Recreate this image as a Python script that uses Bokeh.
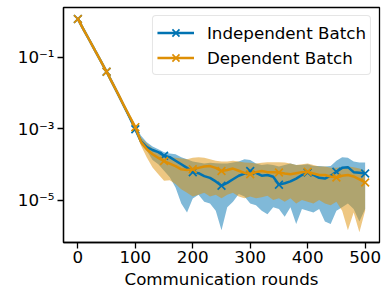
from bokeh.plotting import figure
from bokeh.models import (Range1d, FixedTicker, CustomJSTickFormatter, Legend,
                          LegendItem)
from bokeh.embed import file_html
from bokeh.resources import INLINE

# ---- data (values read as log10 from the reference) ----
rounds = list(range(0, 501, 10))
marker_rounds = list(range(0, 501, 50))

ind_mean_log = [0.07, -0.23, -0.52, -0.82, -1.11, -1.41, -1.72, -2.04, -2.36, -2.68, -3.02,
                -3.36, -3.52, -3.60, -3.66, -3.76, -3.80, -3.90, -4.00, -4.10, -4.22,
                -4.25, -4.33, -4.38, -4.48, -4.60, -4.52, -4.42, -4.32, -4.26, -4.19,
                -4.24, -4.32, -4.30, -4.35, -4.57, -4.53, -4.48, -4.40, -4.30, -4.23,
                -4.30, -4.38, -4.40, -4.32, -4.21, -4.10, -4.08, -4.22, -4.24, -4.26]
ind_upper_log = [0.09, -0.21, -0.50, -0.80, -1.09, -1.38, -1.69, -2.01, -2.32, -2.62, -2.92,
                 -3.20, -3.38, -3.50, -3.58, -3.66, -3.70, -3.72, -3.80, -3.86, -3.92,
                 -3.95, -3.98, -3.96, -3.97, -3.98, -3.98, -3.95, -3.92, -3.86, -3.88,
                 -3.98, -4.02, -4.00, -4.02, -4.06, -4.02, -3.98, -4.02, -4.02, -4.00,
                 -4.05, -4.05, -4.06, -4.05, -3.90, -3.80, -3.82, -3.92, -3.95, -3.95]
ind_lower_log = [0.05, -0.25, -0.54, -0.84, -1.13, -1.44, -1.75, -2.07, -2.40, -2.74, -3.10,
                 -3.45, -3.62, -3.88, -4.00, -4.18, -4.36, -4.65, -5.10, -5.35, -4.96,
                 -4.85, -5.05, -5.10, -5.30, -5.85, -5.20, -5.05, -4.83, -4.90, -5.10,
                 -5.15, -5.30, -5.40, -5.20, -5.25, -5.47, -5.20, -5.67, -5.25, -5.30,
                 -5.35, -5.25, -5.60, -5.67, -5.30, -5.20, -5.10, -5.25, -5.60, -5.25]

dep_mean_log = [0.07, -0.23, -0.52, -0.82, -1.11, -1.41, -1.72, -2.03, -2.35, -2.66, -2.96,
                -3.38, -3.58, -3.72, -3.82, -3.91, -3.98, -4.05, -4.14, -4.16, -4.14,
                -4.10, -4.06, -4.05, -4.10, -4.19, -4.16, -4.12, -4.18, -4.24, -4.28,
                -4.22, -4.19, -4.22, -4.22, -4.23, -4.26, -4.28, -4.25, -4.22, -4.21,
                -4.26, -4.30, -4.30, -4.34, -4.37, -4.32, -4.30, -4.34, -4.42, -4.51]
dep_upper_log = [0.09, -0.21, -0.50, -0.80, -1.09, -1.39, -1.69, -2.00, -2.31, -2.61, -2.90,
                 -3.26, -3.42, -3.56, -3.66, -3.76, -3.80, -3.82, -3.84, -3.86, -3.82,
                 -3.80, -3.82, -3.86, -3.90, -3.92, -3.92, -3.90, -3.92, -3.95, -3.96,
                 -3.98, -3.96, -3.94, -3.94, -3.94, -3.95, -3.98, -4.02, -4.00, -3.98,
                 -4.02, -4.06, -4.06, -4.10, -4.10, -4.08, -4.06, -4.08, -4.12, -4.18]
dep_lower_log = [0.05, -0.25, -0.54, -0.84, -1.13, -1.43, -1.75, -2.06, -2.39, -2.71, -3.02,
                 -3.48, -3.81, -4.09, -4.28, -4.46, -4.45, -4.55, -4.70, -4.80, -4.90,
                 -4.85, -4.80, -4.90, -4.85, -4.95, -4.85, -4.80, -4.90, -4.95, -4.90,
                 -4.95, -4.92, -4.88, -5.00, -4.95, -5.05, -4.95, -5.10, -5.00, -5.05,
                 -5.10, -5.00, -5.10, -5.15, -5.05, -5.30, -5.85, -5.35, -5.90, -5.30]

labels = ["Independent Batch", "Dependent Batch"]
x_ticks = [0, 100, 200, 300, 400, 500]
y_ticks = [1e-1, 1e-3, 1e-5]
y_tick_labels = ["10\u207b\u00b9", "10\u207b\u00b3", "10\u207b\u2075"]

BLUE = "#0173B2"
ORANGE = "#DE8F05"
FONT = "DejaVu Sans"
FS = "16.7px"


def to_lin(vals):
    return [10 ** v for v in vals]


p = figure(width=383, height=291, output_backend="svg", toolbar_location=None,
           y_axis_type="log",
           x_range=Range1d(-25, 525), y_range=Range1d(10 ** -6.19, 10 ** 0.39),
           min_border_left=63, min_border_right=4, min_border_top=7,
           min_border_bottom=47)
p.xgrid.visible = False
p.ygrid.visible = False
p.outline_line_color = "black"
p.outline_line_width = 1.3
p.outline_line_alpha = 1.0
p.background_fill_color = "white"
p.border_fill_color = "white"

series = [
    (ind_mean_log, ind_lower_log, ind_upper_log, BLUE),
    (dep_mean_log, dep_lower_log, dep_upper_log, ORANGE),
]

# bands first (under lines)
for mean, lo, hi, col in series:
    p.varea(x=rounds, y1=to_lin(lo), y2=to_lin(hi), fill_color=col, fill_alpha=0.5)

items = []
for (mean, lo, hi, col), lab in zip(series, labels):
    lin = to_lin(mean)
    lr = p.line(rounds, lin, line_color=col, line_width=2.5)
    mk_y = [lin[rounds.index(r)] for r in marker_rounds]
    sr = p.scatter(marker_rounds, mk_y, marker="x", size=11, line_color=col, line_width=1.7)
    items.append(LegendItem(label=lab, renderers=[lr, sr]))

legend = Legend(items=items, location="top_right")
legend.label_text_font = FONT
legend.label_text_font_size = FS
legend.label_text_color = "black"
legend.glyph_width = 37
legend.glyph_height = 25
legend.label_standoff = 13
legend.spacing = 0
legend.padding = 4
legend.margin = 8
legend.border_line_color = "#cccccc"
legend.border_line_width = 1
legend.background_fill_alpha = 0.8
if "border_radius" in Legend.properties():
    legend.border_radius = 4
p.add_layout(legend)

p.xaxis.ticker = FixedTicker(ticks=x_ticks, minor_ticks=[])
p.yaxis.ticker = FixedTicker(ticks=y_ticks, minor_ticks=[])
p.yaxis.formatter = CustomJSTickFormatter(
    args=dict(tvals=y_ticks, tlabels=y_tick_labels),
    code="""
    let best = 0, bd = 1e9;
    for (let i = 0; i < tvals.length; i++) {
        const d = Math.abs(Math.log10(tvals[i]) - Math.log10(tick));
        if (d < bd) { bd = d; best = i; }
    }
    return tlabels[best];
    """)

for ax in (p.xaxis, p.yaxis):
    ax.major_label_text_font = FONT
    ax.major_label_text_font_size = FS
    ax.major_label_text_color = "black"
    ax.axis_line_color = "black"
    ax.axis_line_width = 1.3
    ax.major_tick_line_color = "black"
    ax.major_tick_line_width = 1.3
    ax.major_tick_out = 6
    ax.major_tick_in = 0
    ax.minor_tick_out = 0
    ax.minor_tick_in = 0
    ax.major_label_standoff = 3

p.xaxis.major_label_standoff = 2
p.xaxis.axis_label = "Communication rounds"
p.xaxis.axis_label_text_font = FONT
p.xaxis.axis_label_text_font_size = FS
p.xaxis.axis_label_text_font_style = "normal"
p.xaxis.axis_label_text_color = "black"
p.xaxis.axis_label_standoff = 3

open("out.html", "w").write(file_html(p, INLINE))
